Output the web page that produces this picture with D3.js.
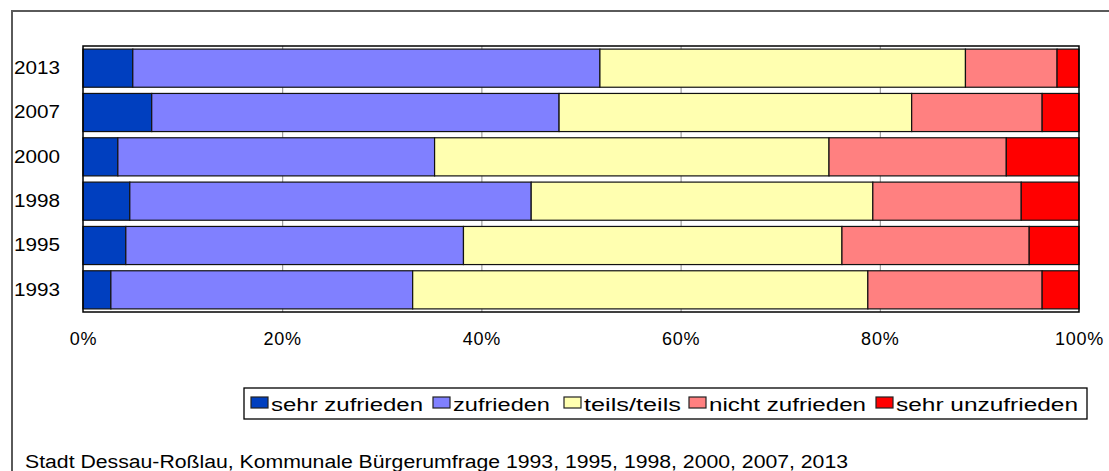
<!DOCTYPE html>
<html>
<head>
<meta charset="utf-8">
<script src="https://cdn.jsdelivr.net/npm/d3@7"></script>
<style>
  body { margin: 0; background: #fff; }
  svg text { font-family: "Liberation Sans", Arial, sans-serif; fill: #000; }
</style>
</head>
<body>
<div id="chart"></div>
<script>
// survey years, top to bottom as in the chart
const years = ["2013", "2007", "2000", "1998", "1995", "1993"]
const categories = ["sehr zufrieden", "zufrieden", "teils/teils", "nicht zufrieden", "sehr unzufrieden"]
const colors = ["#003fbf", "#8080ff", "#ffffb0", "#ff8080", "#ff0000"]

// shares in percent, one array per category, same order as years
const sehr_zufrieden   = [5.0, 6.9, 3.5, 4.7, 4.3, 2.8]
const zufrieden        = [46.9, 40.9, 31.8, 40.3, 33.9, 30.3]
const teils_teils      = [36.7, 35.4, 39.6, 34.3, 38.0, 45.7]
const nicht_zufrieden  = [9.2, 13.1, 17.8, 14.9, 18.8, 17.5]
const sehr_unzufrieden = [2.2, 3.7, 7.3, 5.8, 5.0, 3.7]

const x_ticks = [0, 20, 40, 60, 80, 100]
const source_text = "Stadt Dessau-Roßlau,  Kommunale Bürgerumfrage 1993, 1995, 1998, 2000, 2007, 2013"

const series_values = [sehr_zufrieden, zufrieden, teils_teils, nicht_zufrieden, sehr_unzufrieden]
const table = years.map(function (y, i) {
    let row = {year: y}
    categories.forEach(function (c, k) { row[c] = series_values[k][i] })
    return row
})

const W = 1109, H = 471
const margin = {top: 46, right: 30, bottom: 159, left: 83}
const width = 996, height = 266

let root = d3.select("#chart").append("svg")
    .attr("width", W)
    .attr("height", H)

// outer frame of the chart object
root.append("rect")
    .attr("x", 12).attr("y", 11)
    .attr("width", W + 20).attr("height", H + 20)
    .attr("fill", "none")
    .attr("stroke", "#5a5a5a")
    .attr("stroke-width", 2)

let svg = root.append("g")
    .attr("transform", "translate(" + margin.left + "," + margin.top + ")")

const x = d3.scaleLinear().domain([0, 100]).range([0, width])
const y = d3.scaleBand().domain(years).range([0, height])
    .paddingInner(0.14).paddingOuter(0.07)

// gridlines
svg.append("g")
    .attr("class", "grid")
    .attr("transform", "translate(0," + height + ")")
    .call(d3.axisBottom(x)
        .tickValues([20, 40, 60, 80])
        .tickSize(-height)
        .tickFormat(""))
    .call(g => g.select(".domain").remove())
    .call(g => g.selectAll("line").attr("stroke", "#8c8c8c").attr("stroke-width", 1))

const stacked = d3.stack().keys(categories)(table)

svg.selectAll("g.layer")
    .data(stacked)
    .enter().append("g")
    .attr("class", "layer")
    .attr("fill", (d, i) => colors[i])
    .selectAll("rect")
    .data(d => d)
    .enter().append("rect")
    .attr("x", d => x(d[0]))
    .attr("y", d => y(d.data.year))
    .attr("width", d => x(d[1]) - x(d[0]))
    .attr("height", y.bandwidth())
    .attr("stroke", "#111")
    .attr("stroke-width", 1.2)

// plot border
svg.append("rect")
    .attr("width", width)
    .attr("height", height)
    .attr("fill", "none")
    .attr("stroke", "#000")
    .attr("stroke-width", 1.5)

// x axis labels
svg.append("g")
    .attr("transform", "translate(0," + height + ")")
    .call(d3.axisBottom(x)
        .tickValues(x_ticks)
        .tickSize(0)
        .tickPadding(20)
        .tickFormat(d => d + "%"))
    .call(g => g.select(".domain").remove())
    .call(g => g.selectAll("text")
        .style("font-size", "18px")
        .attr("font-family", null)
        .style("letter-spacing", "0.8px"))

// y axis labels
svg.append("g")
    .call(d3.axisLeft(y)
        .tickSize(0)
        .tickPadding(23))
    .call(g => g.select(".domain").remove())
    .call(g => g.selectAll("text")
        .style("font-size", "18px")
        .attr("font-family", null)
        .attr("textLength", 46)
        .attr("lengthAdjust", "spacingAndGlyphs"))

// legend
const legend_swatch = [251, 433, 564, 689, 876]
const legend_text_w = [152, 97, 97, 157, 182]
let legend = root.append("g")
legend.append("rect")
    .attr("x", 244).attr("y", 388)
    .attr("width", 843).attr("height", 31)
    .attr("fill", "#fff")
    .attr("stroke", "#000")
    .attr("stroke-width", 1.3)

categories.forEach(function (c, i) {
    legend.append("rect")
        .attr("x", legend_swatch[i]).attr("y", 397)
        .attr("width", 17).attr("height", 11)
        .attr("fill", colors[i])
        .attr("stroke", "#222")
        .attr("stroke-width", 1.2)
    legend.append("text")
        .attr("x", legend_swatch[i] + 20)
        .attr("y", 411)
        .style("font-size", "18px")
        .attr("textLength", legend_text_w[i])
        .attr("lengthAdjust", "spacingAndGlyphs")
        .text(c)
})

// source note
root.append("text")
    .attr("x", 25)
    .attr("y", 468)
    .style("font-size", "18px")
    .attr("textLength", 823)
    .attr("lengthAdjust", "spacingAndGlyphs")
    .text(source_text)
</script>
</body>
</html>
